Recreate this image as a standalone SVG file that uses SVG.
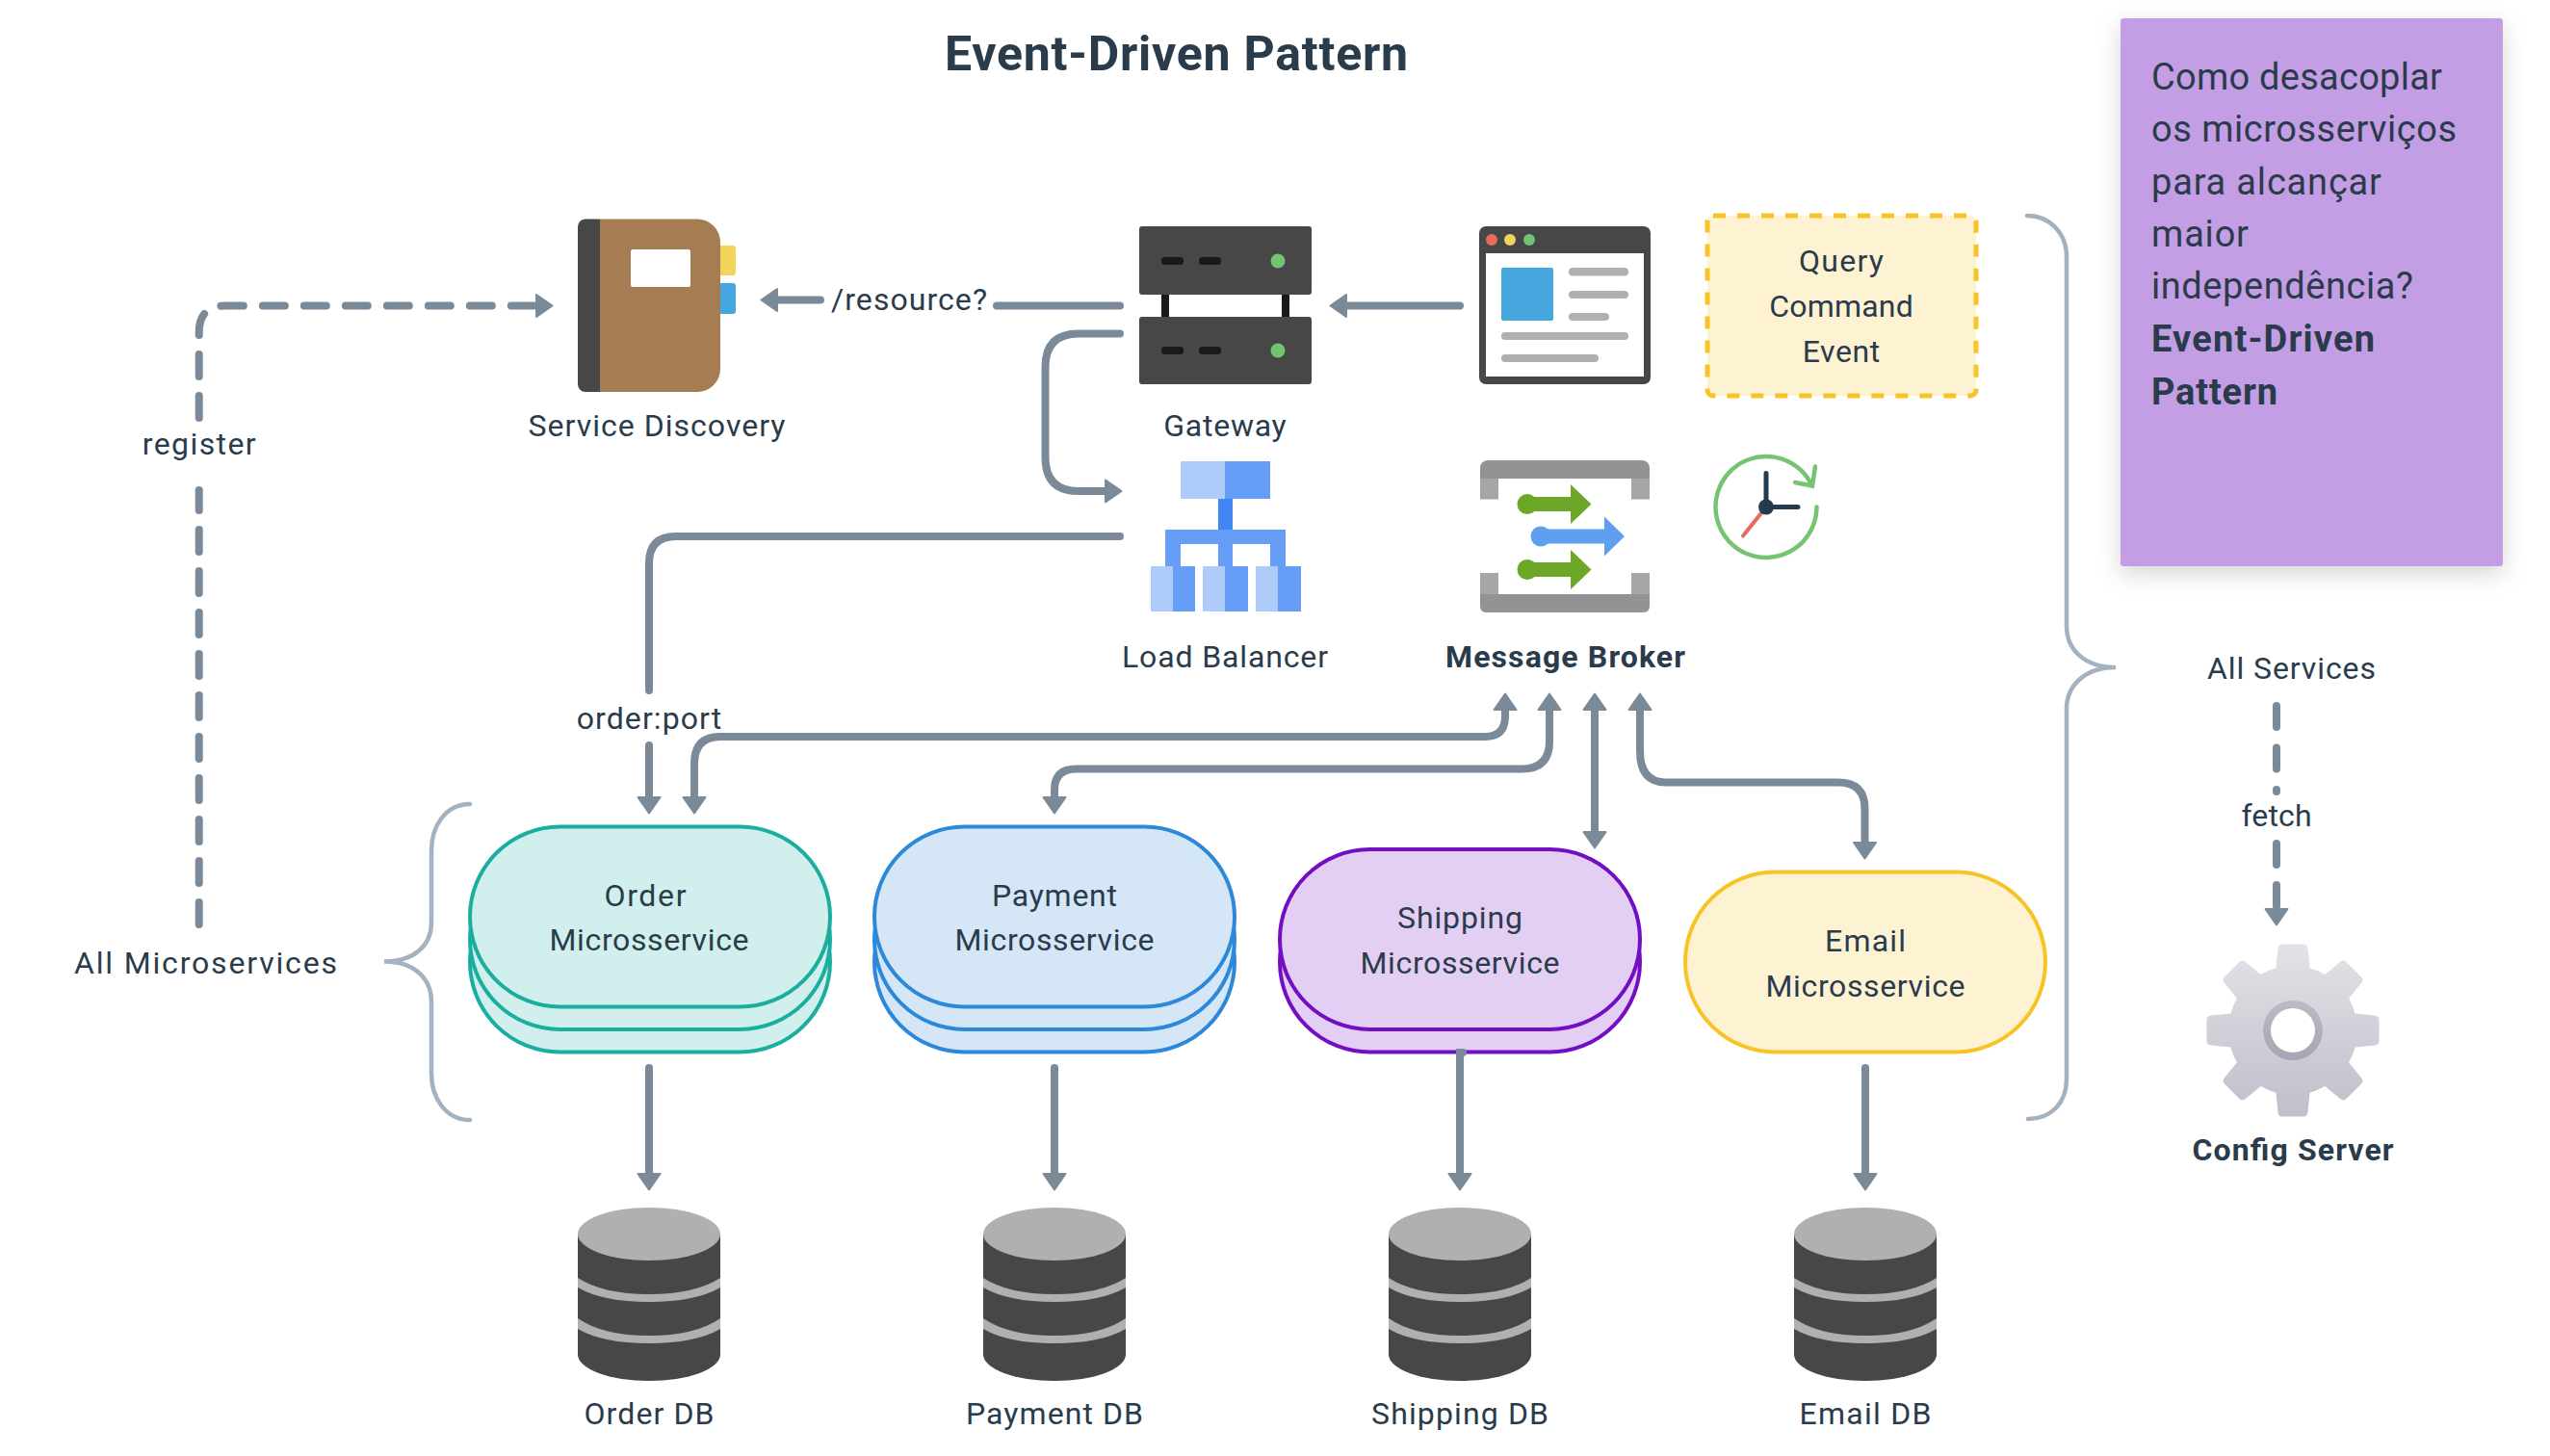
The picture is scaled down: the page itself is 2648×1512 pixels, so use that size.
<svg xmlns="http://www.w3.org/2000/svg" xmlns:xlink="http://www.w3.org/1999/xlink" width="2648" height="1512" viewBox="0 0 2648 1512">
<style>
text{font-family:Roboto,"Noto Sans",sans-serif;font-size:32px;fill:#2a3b4b;text-anchor:middle}
.b{font-weight:700}
.title{font-size:50px;font-weight:700}
.note{font-size:38px;text-anchor:start}
.conn{fill:none;stroke:#7b8a99;stroke-width:8;stroke-linecap:round}
.arr{marker-end:url(#head)}
.dash{stroke-dasharray:23 20}
.brace{fill:none;stroke:#a3b2c0;stroke-width:4.5;stroke-linecap:round}
.pill{stroke-width:4}
.teal{fill:#d1f0ed;stroke:#1aae9f}
.blue{fill:#d5e7f7;stroke:#2c88d9}
.purple{fill:#e3cff3;stroke:#730fc3}
.yellow{fill:#fdf3d3;stroke:#f7c325}
.d{fill:#474747}
.l{fill:#b0b0b0}
.gl{fill:#6ca728}
</style>
<defs>
<marker id="head" markerUnits="userSpaceOnUse" markerWidth="20" markerHeight="28" viewBox="0 0 20 28" refX="1" refY="14" orient="auto-start-reverse">
<path d="M1,2.5L17.5,14L1,25.5Z" fill="#7b8a99" stroke="#7b8a99" stroke-width="2" stroke-linejoin="round"/>
</marker>
<filter id="shadow" x="-20%" y="-20%" width="140%" height="140%"><feDropShadow dx="0" dy="8" stdDeviation="12" flood-color="#000" flood-opacity=".16"/></filter>
<linearGradient id="gearg" gradientUnits="userSpaceOnUse" x1="2381" y1="980" x2="2381" y2="1160"><stop offset="0" stop-color="#e2e2e7"/><stop offset="1" stop-color="#bfbfca"/></linearGradient>
<linearGradient id="ringg" x1="0" y1="0" x2="0" y2="1"><stop offset="0" stop-color="#bcbcc6"/><stop offset="1" stop-color="#a5a5b3"/></linearGradient>
<path id="tooth" d="M-18,-60L-15.5,-85Q-15,-89.5 -11,-89.5L11,-89.5Q15,-89.5 15.5,-85L18,-60Z"/>
<clipPath id="gearclip">
<circle cx="2381" cy="1070" r="67"/>
<use xlink:href="#tooth" href="#tooth" transform="translate(2381 1070)"/>
<use xlink:href="#tooth" href="#tooth" transform="translate(2381 1070) rotate(45)"/>
<use xlink:href="#tooth" href="#tooth" transform="translate(2381 1070) rotate(90)"/>
<use xlink:href="#tooth" href="#tooth" transform="translate(2381 1070) rotate(135)"/>
<use xlink:href="#tooth" href="#tooth" transform="translate(2381 1070) rotate(180)"/>
<use xlink:href="#tooth" href="#tooth" transform="translate(2381 1070) rotate(225)"/>
<use xlink:href="#tooth" href="#tooth" transform="translate(2381 1070) rotate(270)"/>
<use xlink:href="#tooth" href="#tooth" transform="translate(2381 1070) rotate(315)"/>
</clipPath>
<g id="db">
<path class="d" d="M-74,-152.5H74V-27.5A74,27.5 0 0 1 -74,-27.5Z"/>
<ellipse class="l" cx="0" cy="-152.5" rx="74" ry="27.5"/>
<path class="l" d="M-74,-107Q-48,-90 0,-90Q48,-90 74,-107V-97Q48,-82 0,-82Q-48,-82 -74,-97Z"/>
<path class="l" d="M-74,-65Q-48,-47 0,-47Q48,-47 74,-65V-54Q48,-39 0,-39Q-48,-39 -74,-54Z"/>
</g>
<path id="garrow" d="M0,-7.5H45V-20.5L66.5,0L45,20.5V7.5H0Z"/>
<path id="barrow" d="M0,-7.5H66V-20.5L87,0L66,20.5V7.5H0Z"/>
</defs>
<rect width="2648" height="1512" fill="#fff"/>

<text id="title" class="title" x="1221.5" y="73" textLength="481">Event-Driven Pattern</text>

<g id="note">
<rect x="2202" y="19" width="397" height="569" rx="3" fill="#c49ee4" filter="url(#shadow)"/>
<text class="note" x="2234" y="93" textLength="302">Como desacoplar</text>
<text class="note" x="2234" y="147" textLength="317">os microsserviços</text>
<text class="note" x="2234" y="202" textLength="239">para alcançar</text>
<text class="note" x="2234" y="256" textLength="101">maior</text>
<text class="note" x="2234" y="310" textLength="272">independência?</text>
<text class="note b" x="2234" y="365" textLength="232">Event-Driven</text>
<text class="note b" x="2234" y="420" textLength="131">Pattern</text>
</g>

<g id="service-discovery">
<rect x="740" y="255" width="24" height="31" rx="3" fill="#f0d45c"/>
<rect x="740" y="294" width="24" height="32" rx="3" fill="#45a7de"/>
<path d="M623,227.5H724A24,24 0 0 1 748,251.5V383A24,24 0 0 1 724,407H623Z" fill="#a67c52"/>
<path class="d" d="M608,227.5H623V407H608A8,8 0 0 1 600,399V235.5A8,8 0 0 1 608,227.5Z"/>
<rect x="655" y="259" width="62" height="39" rx="2" fill="#fff"/>
<text x="682" y="453" textLength="267">Service Discovery</text>
</g>

<g id="gateway">
<rect x="1206" y="300" width="8" height="35" fill="#1a1a1a"/>
<rect x="1331" y="300" width="8" height="35" fill="#1a1a1a"/>
<rect class="d" x="1183" y="235" width="179" height="71" rx="3"/>
<rect class="d" x="1183" y="329" width="179" height="70" rx="3"/>
<rect x="1206" y="267" width="23" height="8" rx="3.5" fill="#1a1a1a"/>
<rect x="1245" y="267" width="23" height="8" rx="3.5" fill="#1a1a1a"/>
<rect x="1206" y="360" width="23" height="8" rx="3.5" fill="#1a1a1a"/>
<rect x="1245" y="360" width="23" height="8" rx="3.5" fill="#1a1a1a"/>
<circle cx="1327" cy="271" r="7.5" fill="#72c472"/>
<circle cx="1327" cy="364" r="7.5" fill="#72c472"/>
<text x="1272" y="453" textLength="127.5">Gateway</text>
</g>

<g id="client">
<rect class="d" x="1536" y="235" width="178" height="164" rx="7"/>
<rect x="1543" y="263" width="164" height="128" fill="#fff"/>
<circle cx="1549" cy="249" r="6" fill="#e76a5a"/>
<circle cx="1568" cy="249" r="6" fill="#f0d45c"/>
<circle cx="1588" cy="249" r="6" fill="#72c472"/>
<rect x="1559" y="278" width="54" height="55" rx="2" fill="#45a7de"/>
<rect class="l" x="1629" y="278" width="62" height="8.5" rx="4"/>
<rect class="l" x="1629" y="302" width="62" height="8" rx="4"/>
<rect class="l" x="1629" y="325" width="42" height="8" rx="4"/>
<rect class="l" x="1559" y="345" width="132" height="8" rx="4"/>
<rect class="l" x="1559" y="368" width="101" height="8" rx="4"/>
</g>

<g id="message-types">
<rect x="1773" y="224" width="279" height="187" rx="6" fill="#fdf3d3" stroke="#f7c325" stroke-width="5" stroke-dasharray="13 12"/>
<text x="1912" y="281.5" textLength="88">Query</text>
<text x="1912" y="328.5" textLength="149.5">Command</text>
<text x="1912" y="375.5" textLength="80.6">Event</text>
</g>

<g id="load-balancer">
<rect x="1226" y="479" width="46" height="39" fill="#aecbfa"/>
<rect x="1272" y="479" width="47" height="39" fill="#669df6"/>
<rect x="1265" y="518" width="15" height="32" fill="#4285f4"/>
<rect x="1210" y="550" width="125" height="15" fill="#669df6"/>
<rect x="1210" y="565" width="16" height="23" fill="#669df6"/>
<rect x="1265" y="565" width="15" height="23" fill="#669df6"/>
<rect x="1319" y="565" width="16" height="23" fill="#669df6"/>
<rect x="1195" y="588" width="23" height="47" fill="#aecbfa"/>
<rect x="1218" y="588" width="23" height="47" fill="#669df6"/>
<rect x="1249" y="588" width="23" height="47" fill="#aecbfa"/>
<rect x="1272" y="588" width="24" height="47" fill="#669df6"/>
<rect x="1304" y="588" width="23" height="47" fill="#aecbfa"/>
<rect x="1327" y="588" width="24" height="47" fill="#669df6"/>
<text x="1272" y="693" textLength="214">Load Balancer</text>
</g>

<g id="message-broker">
<path d="M1537,497H1556V518.6H1537ZM1694,497H1713V518.6H1694Z" fill="#a6a6a6"/>
<path d="M1537,497V486A8,8 0 0 1 1545,478H1705A8,8 0 0 1 1713,486V497Z" fill="#939393"/>
<path d="M1537,617V595H1556V617ZM1694,595H1713V617H1694Z" fill="#a6a6a6"/>
<path d="M1537,617H1713V630A6,6 0 0 1 1707,636H1543A6,6 0 0 1 1537,630Z" fill="#939393"/>
<g class="gl">
<circle cx="1586" cy="523.6" r="10.5"/><use xlink:href="#garrow" href="#garrow" transform="translate(1586 523.6)"/>
<circle cx="1586" cy="591.5" r="10.5"/><use xlink:href="#garrow" href="#garrow" transform="translate(1586 591.5)"/>
</g>
<g fill="#5f9fef">
<circle cx="1600" cy="557" r="10.5"/><use xlink:href="#barrow" href="#barrow" transform="translate(1600 557)"/>
</g>
<text class="b" x="1625.5" y="693" textLength="249">Message Broker</text>
</g>

<g id="clock" fill="none" stroke-linecap="round">
<path d="M1886.5,526.5A52.5,52.5 0 1 1 1881.6,504.3" stroke="#76c472" stroke-width="4.5"/>
<path d="M1885,484.5L1882,504.5L1864,501" stroke="#76c472" stroke-width="4.5"/>
<path d="M1834,526.5L1810,556.5" stroke="#e76a5a" stroke-width="4"/>
<path d="M1834,491.5V526.5H1867" stroke="#243b4f" stroke-width="5"/>
<circle cx="1834" cy="526.5" r="8" fill="#243b4f"/>
</g>

<g id="config-server">
<g clip-path="url(#gearclip)"><rect x="2280" y="970" width="200" height="200" fill="url(#gearg)"/></g>
<circle cx="2381" cy="1070" r="31" fill="url(#ringg)"/>
<circle cx="2381" cy="1070" r="23" fill="#fff"/>
<text class="b" x="2381" y="1205" textLength="209">Config Server</text>
</g>

<g id="order-ms">
<rect class="pill teal" x="488" y="905.5" width="374" height="187" rx="93.5"/>
<rect class="pill teal" x="488" y="882" width="374" height="187" rx="93.5"/>
<rect class="pill teal" x="488" y="858.5" width="374" height="187" rx="93.5"/>
<text x="670" y="941" textLength="85">Order</text>
<text x="674" y="987" textLength="207">Microsservice</text>
</g>
<g id="payment-ms">
<rect class="pill blue" x="908" y="905.5" width="374" height="187" rx="93.5"/>
<rect class="pill blue" x="908" y="882" width="374" height="187" rx="93.5"/>
<rect class="pill blue" x="908" y="858.5" width="374" height="187" rx="93.5"/>
<text x="1095" y="941" textLength="130">Payment</text>
<text x="1095" y="987" textLength="207">Microsservice</text>
</g>
<g id="shipping-ms">
<rect class="pill purple" x="1329" y="905.5" width="374" height="187" rx="93.5"/>
<rect class="pill purple" x="1329" y="882" width="374" height="187" rx="93.5"/>
<text x="1516" y="964" textLength="130">Shipping</text>
<text x="1516" y="1011" textLength="207">Microsservice</text>
</g>
<g id="email-ms">
<rect class="pill yellow" x="1750" y="905.5" width="374" height="187" rx="93.5"/>
<text x="1937" y="988" textLength="84">Email</text>
<text x="1937" y="1034.5" textLength="207">Microsservice</text>
</g>

<g id="order-db"><use xlink:href="#db" href="#db" x="674" y="1434"/><text x="674" y="1479" textLength="135">Order DB</text></g>
<g id="payment-db"><use xlink:href="#db" href="#db" x="1095" y="1434"/><text x="1095" y="1479" textLength="184">Payment DB</text></g>
<g id="shipping-db"><use xlink:href="#db" href="#db" x="1516" y="1434"/><text x="1516" y="1479" textLength="184">Shipping DB</text></g>
<g id="email-db"><use xlink:href="#db" href="#db" x="1937" y="1434"/><text x="1937" y="1479" textLength="137">Email DB</text></g>

<g id="all-microservices"><text x="213.5" y="1010.5" textLength="273">All Microservices</text></g>
<g id="all-services"><text x="2379.5" y="704.5" textLength="175">All Services</text></g>

<g id="braces">
<path class="brace" d="M488,835C462,835 448,859 448,883V958C448,982 430,998.5 399,998.5C430,998.5 448,1016 448,1040V1115C448,1139 462,1163 488,1163"/>
<path class="brace" d="M2105,224C2130,224 2146,244 2146,266V650C2146,675 2165,693 2197,693C2165,693 2146,712 2146,736V1121C2146,1145 2130,1162 2106,1162"/>
</g>

<g id="connectors">
<path class="conn dash" d="M206.7,960V509"/>
<path class="conn dash arr" d="M206.7,434V345Q206.7,317.5 234,317.5H557"/>
<path class="conn" d="M1163,317.5H1035"/>
<path class="conn arr" d="M852,311.5H807"/>
<path class="conn arr" d="M1516,317.5H1398"/>
<path class="conn arr" d="M1163,346.4H1120Q1085.5,346.4 1085.5,381V475Q1085.5,510 1120,510H1148"/>
<path class="conn" d="M1163,557H702Q674,557 674,585V717"/>
<path class="conn arr" d="M674,774V828"/>
<path class="conn arr" style="marker-start:url(#head)" d="M721,828V793Q721,765 748,765H1542Q1563,765 1563,744V737"/>
<path class="conn arr" style="marker-start:url(#head)" d="M1095,828V820Q1095,798.6 1118,798.6H1580Q1609,798.6 1609,770V737"/>
<path class="conn arr" style="marker-start:url(#head)" d="M1656,737V864"/>
<path class="conn arr" style="marker-start:url(#head)" d="M1703,737V780Q1703,812.5 1730,812.5H1909Q1936.5,812.5 1936.5,840V875"/>
<path class="conn arr" d="M674,1109V1219"/>
<path class="conn arr" d="M1095,1109V1219"/>
<path class="conn arr" d="M1519,1093H1516V1219"/>
<path class="conn arr" d="M1937,1109V1219"/>
<path class="conn" style="stroke-dasharray:22 21.5" d="M2364,733V822"/>
<path class="conn arr" style="stroke-dasharray:22 21" d="M2364,876V944"/>
<text x="944" y="321.5" textLength="162">/resource?</text>
<text x="206.7" y="472" textLength="118">register</text>
<text x="674" y="756.5" textLength="150.5">order:port</text>
<text x="2364" y="858" textLength="73">fetch</text>
</g>
</svg>
